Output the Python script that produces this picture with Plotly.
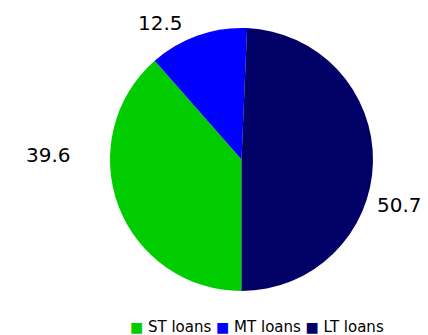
import plotly.graph_objects as go

labels = ["ST loans", "MT loans", "LT loans"]
values = [39.6, 12.5, 50.7]
colors = ["#00CC00", "#0000FF", "#000066"]

W, H = 428, 335

# ST is listed first so the legend reads ST, MT, LT; it begins at 6 o'clock,
# which leaves LT running clockwise from the top.
fig = go.Figure(
    go.Pie(
        labels=labels,
        values=values,
        sort=False,
        direction="clockwise",
        rotation=180,
        marker=dict(colors=colors, line=dict(width=0)),
        textinfo="none",
        hoverinfo="label+value",
        domain=dict(x=[110 / W, 373 / W], y=[1 - 291 / H, 1 - 28 / H]),
        showlegend=False,
    )
)

# value labels set outside the slices
label_pos = {"ST loans": (48.5, 155), "MT loans": (160, 23), "LT loans": (399.5, 205.5)}
for lab, val in zip(labels, values):
    px, py = label_pos[lab]
    fig.add_annotation(
        x=px / W, y=1 - py / H, xref="paper", yref="paper",
        text=f"{val:.1f}", showarrow=False,
        xanchor="center", yanchor="middle",
        font=dict(size=20, color="#000000", family="DejaVu Sans"),
    )

# legend row along the bottom
legend_text = "&nbsp;".join(
    f'<span style="color:{c};font-size:14px">■</span> {lab}' for lab, c in zip(labels, colors)
)
fig.add_annotation(
    x=257 / W, y=1 - 326.5 / H, xref="paper", yref="paper",
    text=legend_text, showarrow=False,
    xanchor="center", yanchor="middle",
    font=dict(size=15, color="#000000", family="DejaVu Sans"),
)

fig.update_layout(
    width=W,
    height=H,
    margin=dict(l=0, r=0, t=0, b=0),
    paper_bgcolor="white",
    plot_bgcolor="white",
    font=dict(family="DejaVu Sans", size=15, color="#000000"),
)

fig.write_html("out.html")
